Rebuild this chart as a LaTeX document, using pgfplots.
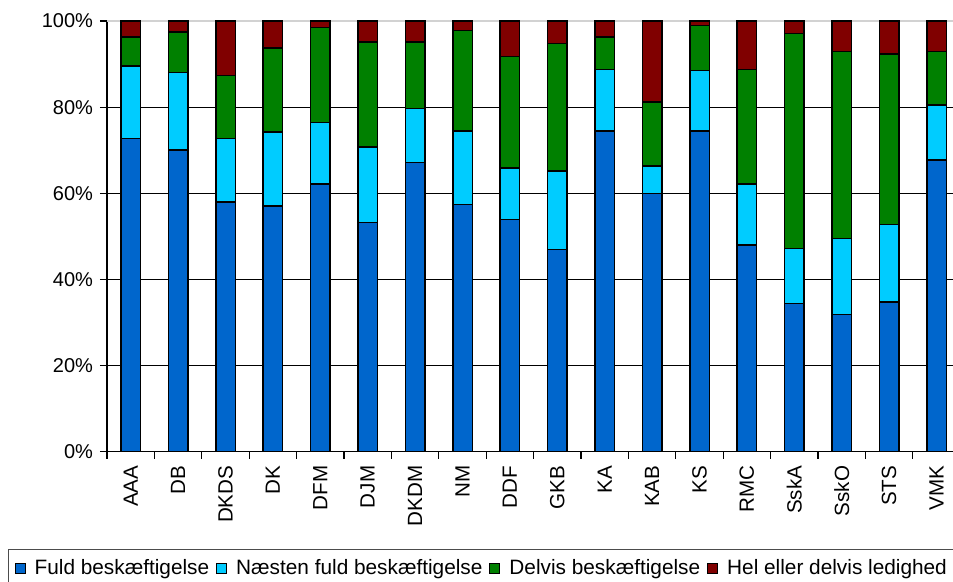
\documentclass[border=0pt]{standalone}
\usepackage{fontspec}
\setmainfont{Liberation Sans}
\usepackage{pgfplots}
\pgfplotsset{compat=1.18}
\usepackage{pgfplotstable}
\definecolor{cFuld}{HTML}{0066CC}
\definecolor{cNaesten}{HTML}{00CCFF}
\definecolor{cDelvis}{HTML}{008000}
\definecolor{cHel}{HTML}{800000}
\pgfplotstableread{
x fuld naesten delvis hel
0 72.7 16.8 6.8 3.7
1 70.0 18.0 9.4 2.6
2 58.0 14.7 14.6 12.7
3 57.0 17.2 19.5 6.3
4 62.2 14.2 22.1 1.5
5 53.2 17.6 24.3 4.9
6 67.1 12.6 15.4 4.9
7 57.4 17.1 23.3 2.2
8 53.9 12.0 25.8 8.3
9 47.0 18.2 29.6 5.2
10 74.5 14.2 7.6 3.7
11 60.0 6.3 14.9 18.8
12 74.5 14.0 10.4 1.1
13 48.0 14.2 26.5 11.3
14 34.4 12.8 49.9 2.9
15 31.8 17.7 43.4 7.1
16 34.8 17.9 39.6 7.7
17 67.7 12.8 12.4 7.1
}\datatable
\begin{document}
\begin{tikzpicture}
\begin{axis}[
  at={(53.5pt,65.15pt)}, anchor=south west,
  scale only axis,
  width=426.6pt, height=215.35pt,
  ybar stacked,
  bar width=9.75pt,
  xmin=-0.5, xmax=17.5,
  ymin=0, ymax=100,
  axis lines*=left,
  axis line style={black, line width=0.6pt},
  tick align=outside,
  major tick length=3.5pt,
  tick style={black, line width=0.6pt},
  xtick={-0.5,0.5,...,17.5},
  xticklabels={},
  extra x ticks={0,1,...,17},
  extra x tick labels={AAA,DB,DKDS,DK,DFM,DJM,DKDM,NM,DDF,GKB,KA,KAB,KS,RMC,SskA,SskO,STS,VMK},
  extra x tick style={tick style={draw=none}, tick label style={rotate=90, anchor=east, font=\fontsize{10.3}{12}\selectfont}},
  ytick={0,20,40,60,80},
  extra y ticks={100},
  extra y tick style={grid style={gray!35, line width=0.6pt}},
  yticklabel={\pgfmathprintnumber{\tick}\%},
  ymajorgrids=true,
  grid style={black, line width=0.5pt},
  /pgf/number format/assume math mode=true,
  tick label style={font=\fontsize{10}{12}\selectfont, text=black},
  legend columns=4,
  legend style={at={(-0.116,-0.226)}, anchor=north west, draw=black!70, line width=0.6pt,
    font=\fontsize{10.4}{12}\selectfont, inner xsep=3pt, inner ysep=3pt,
    nodes={inner xsep=1pt},
    /tikz/every even column/.append style={column sep=2.5pt},
    /tikz/every odd column/.append style={column sep=3.5pt}},
  legend image code/.code={\draw[#1, line width=0.5pt, draw=black] (0pt,-2.5pt) rectangle (5pt,2.5pt);},
]
\addplot[fill=cFuld, draw=black, line width=0.75pt] table[x=x, y=fuld] {\datatable};
\addplot[fill=cNaesten, draw=black, line width=0.75pt] table[x=x, y=naesten] {\datatable};
\addplot[fill=cDelvis, draw=black, line width=0.75pt] table[x=x, y=delvis] {\datatable};
\addplot[fill=cHel, draw=black, line width=0.75pt] table[x=x, y=hel] {\datatable};
\legend{Fuld beskæftigelse, Næsten fuld beskæftigelse, Delvis beskæftigelse, Hel eller delvis ledighed}
\end{axis}
\pgfresetboundingbox
\useasboundingbox (0,0) rectangle (476.5pt,291pt);
\end{tikzpicture}
\end{document}
